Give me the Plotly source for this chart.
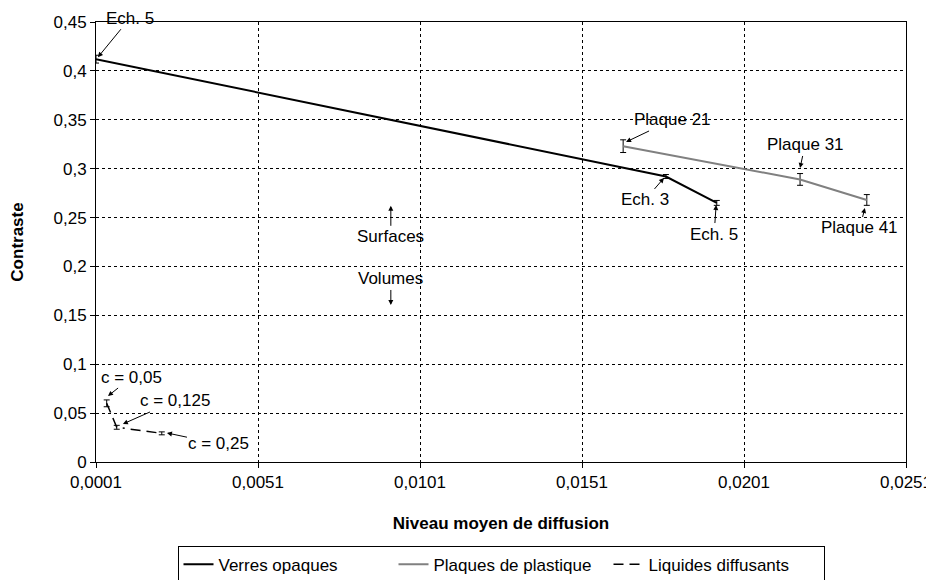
import plotly.graph_objects as go

# Verres opaques
verres_x = [0.0001, 0.01769, 0.01926]
verres_y = [0.412, 0.292, 0.265]
verres_err = [0.004, 0.002, 0.0025]

# Plaques de plastique
plaques_x = [0.01637, 0.02183, 0.02389]
plaques_y = [0.323, 0.289, 0.268]
plaques_err = [0.0065, 0.006, 0.0055]

# Liquides diffusants
liquides_x = [0.00043, 0.00074, 0.00213]
liquides_y = [0.060, 0.0355, 0.0293]
liquides_err = [0.0035, 0.002, 0.0015]

x_ticks = [0.0001, 0.0051, 0.0101, 0.0151, 0.0201, 0.0251]
x_tick_labels = ["0,0001", "0,0051", "0,0101", "0,0151", "0,0201", "0,0251"]

FONT = "Liberation Sans, Arial, sans-serif"
FS = 17

fig = go.Figure()

fig.add_trace(go.Scatter(
    x=verres_x, y=verres_y, mode="lines", name="Verres opaques",
    line={"color": "black", "width": 2},
    error_y={"type": "data", "array": verres_err, "color": "black", "thickness": 1, "width": 3},
))
fig.add_trace(go.Scatter(
    x=plaques_x, y=plaques_y, mode="lines", name="Plaques de plastique",
    line={"color": "#808080", "width": 2},
    error_y={"type": "data", "array": plaques_err, "color": "black", "thickness": 1, "width": 3},
))
fig.add_trace(go.Scatter(
    x=liquides_x, y=liquides_y, mode="lines", name="Liquides diffusants",
    line={"color": "black", "width": 1.5, "dash": "10px,6px,10px,6px,2px,6px"},
    error_y={"type": "data", "array": liquides_err, "color": "black", "thickness": 1, "width": 3},
))

# label, arrow head x, arrow head y, text offset ax, ay (px)
notes = [
    ("Ech. 5", 0.00016, 0.414, 32, -39),
    ("Ech. 3", 0.01763, 0.2905, -19, 22),
    ("Ech. 5", 0.01924, 0.2628, -2, 29),
    ("Plaque 21", 0.01646, 0.3273, 46, -22),
    ("Plaque 31", 0.02183, 0.3007, 5, -23),
    ("Plaque 41", 0.02383, 0.2598, -5, 20),
    ("c = 0,05", 0.00047, 0.0675, 24, -19),
    ("c = 0,125", 0.00093, 0.0389, 52, -23),
    ("c = 0,25", 0.00229, 0.0297, 52, 11),
    ("Surfaces", 0.0092, 0.262, 0, 31),
    ("Volumes", 0.0092, 0.1606, 0, -26),
]

annotations = []
for text, x, y, ax, ay in notes:
    annotations.append(dict(
        x=x, y=y, xref="x", yref="y", text=text, ax=ax, ay=ay,
        showarrow=True, arrowhead=2, arrowsize=1, arrowwidth=1, arrowcolor="black",
        standoff=0, startstandoff=0, font={"size": FS, "color": "black", "family": FONT},
    ))

axis_common = dict(
    showline=True, linecolor="black", linewidth=1, mirror=True,
    showgrid=True, gridcolor="black", gridwidth=1, griddash="3px,3px",
    ticks="outside", ticklen=5, tickcolor="black",
    tickfont={"size": FS, "color": "black", "family": FONT},
    zeroline=False, automargin=False,
)

# the page body adds an 8px offset, so size and top/left margins are reduced by 8px
fig.update_layout(
    width=926, height=572,
    margin={"l": 88, "r": 28, "t": 14, "b": 118},
    paper_bgcolor="white", plot_bgcolor="white",
    separators=", ",
    font={"family": FONT, "color": "black", "size": FS},
    xaxis=dict(
        axis_common, range=[0.0001, 0.0251],
        tickvals=x_ticks, ticktext=x_tick_labels,
        title={"text": "<b>Niveau moyen de diffusion</b>", "font": {"size": FS}, "standoff": 25},
    ),
    yaxis=dict(
        axis_common, range=[0, 0.45], dtick=0.05, tick0=0,
        title={"text": "<b>Contraste</b>", "font": {"size": FS}, "standoff": 33},
    ),
    showlegend=True,
    legend=dict(
        orientation="h", x=0.5, xanchor="center", xref="paper",
        y=0.06, yanchor="top", yref="container",
        bordercolor="black", borderwidth=1, bgcolor="white",
        font={"size": FS, "family": FONT}, tracegroupgap=0,
        entrywidth=170, entrywidthmode="pixels",
    ),
    annotations=annotations,
)

fig.write_html("out.html")
